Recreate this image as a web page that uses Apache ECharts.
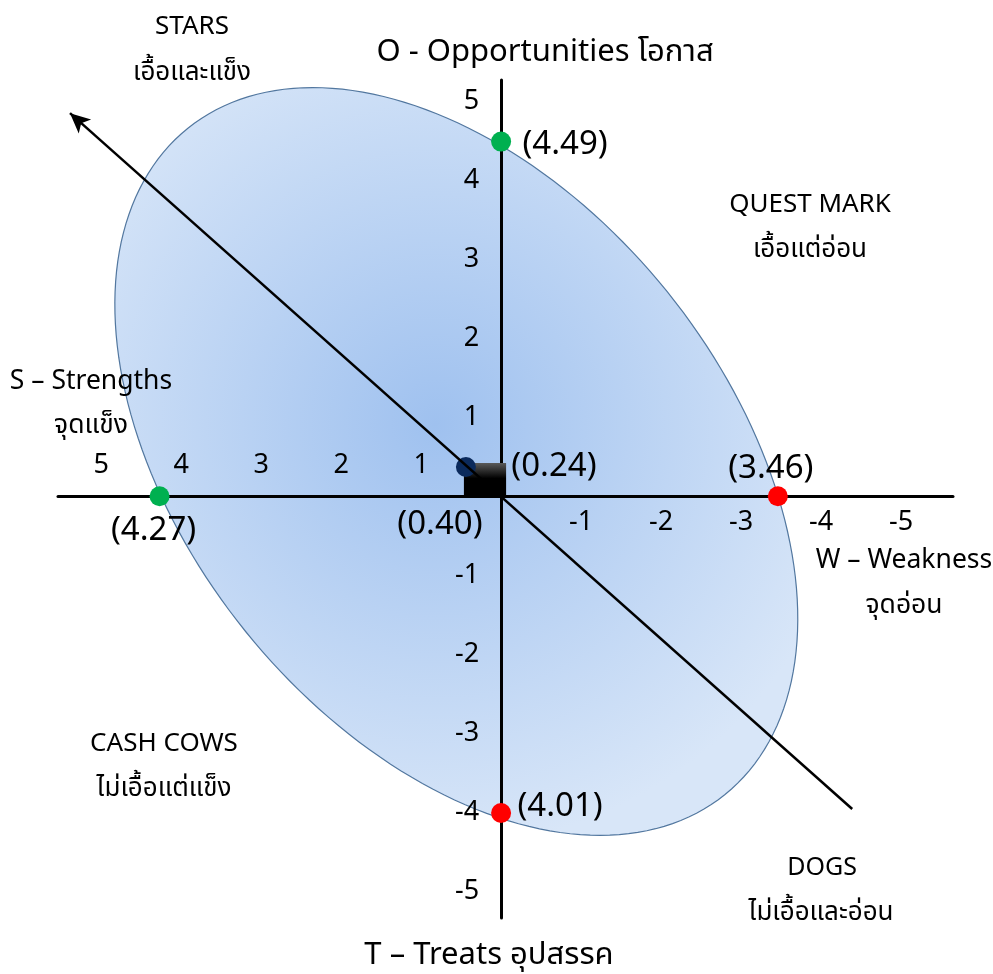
<!DOCTYPE html>
<html lang="th">
<head>
<meta charset="UTF-8">
<title>SWOT Matrix</title>
<style>
    html, body { margin: 0; padding: 0; background: #fff; }
    #main { width: 993px; height: 974px; }
</style>
</head>
<body>
<div id="main"></div>
<script src="https://cdn.jsdelivr.net/npm/echarts@6/dist/echarts.min.js"></script>
<script>
    // คะแนน SWOT (S/O เป็นบวก, W/T อยู่ฝั่งลบ)
    var swotNames = ['S', 'W', 'O', 'T'];
    var swotX = [4.27, -3.46, 0, 0];
    var swotY = [0, 0, 4.49, -4.01];
    var swotText = ['(4.27)', '(3.46)', '(4.49)', '(4.01)'];

    // จุดกึ่งกลาง (ตำแหน่งตามภาพ) และค่าที่เขียนกำกับ
    var centerX = 0.44;
    var centerY = 0.37;
    var centerText = ['(0.40)', '(0.24)'];

    // เส้นกลยุทธ์ (ลูกศร)
    var strategyFrom = [-4.39, -3.96];
    var strategyTo = [5.39, 4.85];

    // วงรีครอบพื้นที่
    var ellipseCenter = [0.56, 0.44];

    // ป้ายแกน
    var xTicksLeft = [1, 2, 3, 4, 5];
    var xTicksRight = [-1, -2, -3, -4, -5];
    var yTicks = [5, 4, 3, 2, 1, -1, -2, -3, -4, -5];

    var FONT = '"Noto Sans", "Noto Sans Thai", Tahoma, sans-serif';
    var ELL_A = 5.35, ELL_B = 3.385, ELL_TILT = 51.1;

    // สี/ตำแหน่งป้ายของแต่ละจุด
    var pointStyle = {
        S: { color: '#00b050', offset: [-6, 34] },
        W: { color: '#ff0000', offset: [-7, -28] },
        O: { color: '#00b050', offset: [64, 3] },
        T: { color: '#ff0000', offset: [59, -6] }
    };

    var swotData = [];
    for (var i = 0; i < swotNames.length; i++) {
        var st = pointStyle[swotNames[i]];
        swotData.push({
            name: swotNames[i],
            value: [swotX[i], swotY[i]],
            itemStyle: { color: st.color, opacity: 1 },
            label: { formatter: swotText[i], offset: st.offset }
        });
    }

    // ป้ายตัวเลขบนแกน วางตามสเกลของแกนเอง
    var tickData = [];
    xTicksLeft.forEach(function (v) {
        tickData.push({ value: [v, 0], label: { formatter: String(v), position: 'inside', offset: [0, -31] } });
    });
    xTicksRight.forEach(function (v) {
        tickData.push({ value: [v, 0], label: { formatter: String(v), position: 'inside', offset: [0, 26] } });
    });
    yTicks.forEach(function (v) {
        tickData.push({ value: [0, v], label: { formatter: String(v), position: 'left', distance: 22 } });
    });

    function renderEllipse(params, api) {
        var c = api.coord([api.value(0), api.value(1)]);
        var unit = api.size([1, 1]);
        var a = ELL_A * unit[0], b = ELL_B * unit[0];
        var phi = ELL_TILT * Math.PI / 180;
        var pts = [];
        for (var k = 0; k < 200; k++) {
            var t = k / 200 * Math.PI * 2;
            var u = a * Math.cos(t), v = b * Math.sin(t);
            pts.push([c[0] + u * Math.cos(phi) - v * Math.sin(phi),
                      c[1] + u * Math.sin(phi) + v * Math.cos(phi)]);
        }
        return {
            type: 'polygon',
            shape: { points: pts },
            style: {
                fill: {
                    type: 'radial', x: 0.47, y: 0.45, r: 0.62,
                    colorStops: [
                        { offset: 0, color: '#9fc1ef' },
                        { offset: 1, color: '#d8e6f8' }
                    ]
                },
                stroke: '#52779f',
                lineWidth: 1.2
            }
        };
    }

    // สี่เหลี่ยมดำจากจุดศูนย์ถึงจุดกึ่งกลาง
    function renderBox(params, api) {
        var p0 = api.coord([0, 0]);
        var p1 = api.coord([api.value(0), api.value(1)]);
        var x = p1[0] - 2, y = p1[1] - 4;
        return {
            type: 'rect',
            shape: { x: x, y: y, width: p0[0] + 5 - x, height: p0[1] + 1 - y },
            style: {
                fill: {
                    type: 'linear', x: 0, y: 0, x2: 0, y2: 1,
                    colorStops: [
                        { offset: 0, color: '#5a5a5a' },
                        { offset: 0.45, color: '#000' },
                        { offset: 1, color: '#000' }
                    ]
                }
            }
        };
    }

    function textEl(str, x, y, size) {
        return {
            type: 'text', x: x, y: y, z: 10,
            style: {
                text: str, fontFamily: FONT, fontSize: size, fill: '#000',
                textAlign: 'center', textVerticalAlign: 'middle'
            }
        };
    }

    var axisCommon = {
        axisLine: { onZero: true, lineStyle: { color: '#000', width: 3 } },
        axisTick: { show: false },
        splitLine: { show: false },
        axisLabel: { show: false }
    };

    var myChart = echarts.init(document.getElementById('main'));
    var option = {
        animation: false,
        textStyle: { fontFamily: FONT },
        grid: { left: 58, right: 40, top: 80, bottom: 56, containLabel: false, outerBoundsMode: 'none' },
        xAxis: Object.assign({ type: 'value', inverse: true, min: -5.65, max: 5.54, z: 3 }, axisCommon),
        yAxis: Object.assign({ type: 'value', min: -5.34, max: 5.27, z: 3 }, axisCommon),
        graphic: [
            textEl('STARS', 192, 27, 26),
            textEl('เอื้อและแข็ง', 192, 73, 26),
            textEl('O - Opportunities โอกาส', 545, 52, 31),
            textEl('QUEST MARK', 810, 205, 26),
            textEl('เอื้อแต่อ่อน', 810, 250, 26),
            textEl('S – Strengths', 91, 381, 26.5),
            textEl('จุดแข็ง', 91, 425, 26.5),
            textEl('W – Weakness', 904, 560, 26.5),
            textEl('จุดอ่อน', 904, 605, 26.5),
            textEl('CASH COWS', 164, 744, 26),
            textEl('ไม่เอื้อแต่แข็ง', 164, 789, 26),
            textEl('DOGS', 822, 868, 25),
            textEl('ไม่เอื้อและอ่อน', 821, 913, 26),
            textEl('T – Treats อุปสรรค', 489, 955, 31)
        ],
        series: [
            {
                type: 'custom', z: 1, silent: true,
                renderItem: renderEllipse,
                data: [ellipseCenter]
            },
            {
                type: 'scatter', z: 3, silent: true,
                symbolSize: 0,
                itemStyle: { opacity: 1 },
                label: { show: true, fontFamily: FONT, fontSize: 27, color: '#000' },
                data: tickData
            },
            {
                type: 'custom', z: 4, silent: true,
                renderItem: renderBox,
                data: [[centerX, centerY]]
            },
            {
                type: 'scatter', z: 5, silent: true,
                symbolSize: 20,
                itemStyle: { color: '#0b2a5c', opacity: 1 },
                label: { show: true, position: 'inside', fontFamily: FONT, fontSize: 33, color: '#000' },
                data: [
                    { value: [centerX, centerY], label: { formatter: centerText[0], offset: [-26, 58] } },
                    { value: [centerX, centerY], symbolSize: 0, label: { formatter: centerText[1], offset: [88, 0] } }
                ],
                markLine: {
                    silent: true, z: 6,
                    symbol: ['none', 'arrow'],
                    symbolSize: [14, 20],
                    label: { show: false },
                    lineStyle: { color: '#000', width: 2.5, type: 'solid' },
                    data: [[{ coord: strategyFrom }, { coord: strategyTo }]]
                }
            },
            {
                type: 'scatter', z: 7, silent: true,
                symbolSize: 20,
                label: { show: true, position: 'inside', fontFamily: FONT, fontSize: 33, color: '#000' },
                data: swotData
            }
        ]
    };
    myChart.setOption(option);
</script>
</body>
</html>
